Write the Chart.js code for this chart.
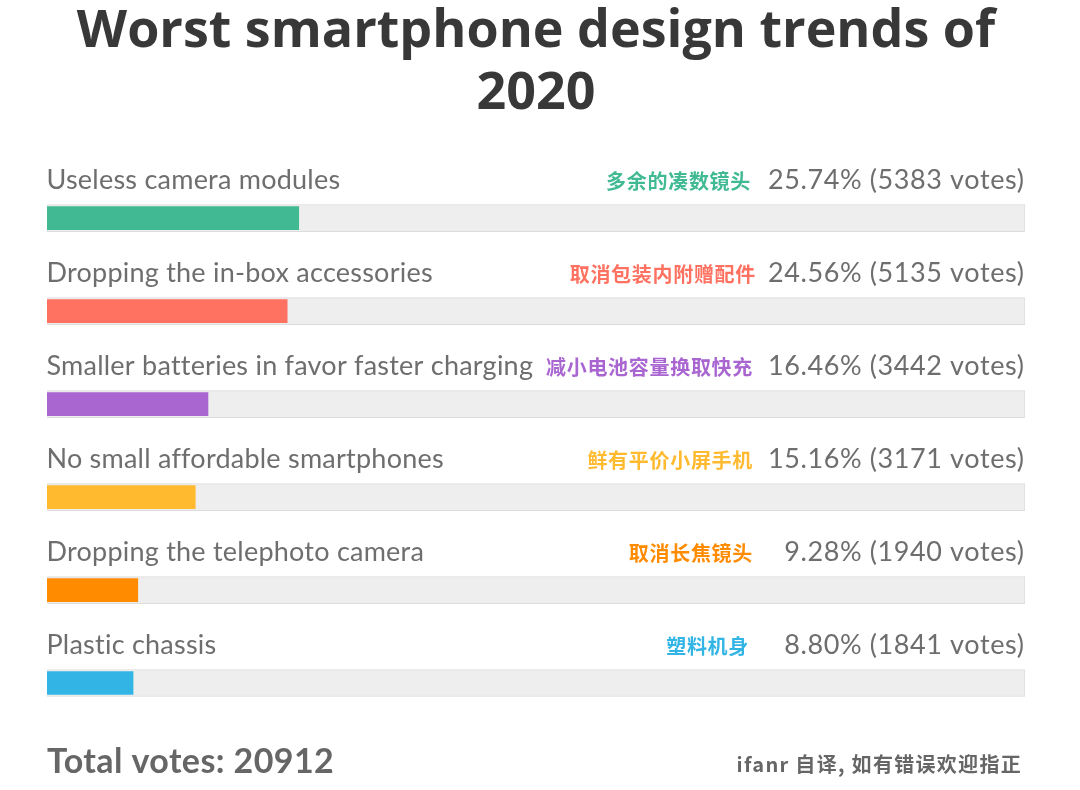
<!DOCTYPE html>
<html lang="en">
<head>
<meta charset="utf-8">
<style>html,body{margin:0;padding:0;background:#fff}canvas{display:block}</style>
<script src="https://cdn.jsdelivr.net/npm/chart.js@4"></script>
</head>
<body>
<canvas id="c" width="1080" height="790"></canvas>
<script>
const titleLines = ["Worst smartphone design trends of", "2020"];
const categories = ["Useless camera modules", "Dropping the in-box accessories", "Smaller batteries in favor faster charging", "No small affordable smartphones", "Dropping the telephoto camera", "Plastic chassis"];
const zhLabels = ["多余的凑数镜头", "取消包装内附赠配件", "减小电池容量换取快充", "鲜有平价小屏手机", "取消长焦镜头", "塑料机身"];
const percents = [25.74, 24.56, 16.46, 15.16, 9.28, 8.80];
const votes = [5383, 5135, 3442, 3171, 1940, 1841];
const trackValues = [100, 100, 100, 100, 100, 100];
const colors = ["#41b993", "#ff7262", "#a966d1", "#ffba30", "#ff8c00", "#32b5e5"];
const totalText = "Total votes: 20912";
const creditText = "ifanr 自译, 如有错误欢迎指正";

const latin = 'Lato, "Noto Sans", sans-serif';
const cjk = '"Noto Sans CJK SC", sans-serif';

const textPlugin = {
  id: "rowText",
  afterDatasetsDraw(chart) {
    const { ctx, scales: { y } } = chart;
    const zhRightNudge = [-1, 4, 1, 1, 1, -3];
    ctx.save();
    ctx.textBaseline = "middle";
    categories.forEach((name, i) => {
      const py = y.getPixelForValue(i) - 37.5;
      ctx.textAlign = "left";
      ctx.letterSpacing = "0.23px";
      ctx.fillStyle = "#6e6e6e";
      ctx.font = "400 27px " + latin;
      ctx.fillText(name, 46.5, py);
      ctx.textAlign = "right";
      ctx.letterSpacing = "0.6px";
      ctx.fillText(percents[i].toFixed(2) + "% (" + votes[i] + " votes)", 1024.5, py);
      ctx.letterSpacing = "0.7px";
      ctx.fillStyle = colors[i];
      ctx.font = "700 20px " + cjk;
      ctx.fillText(zhLabels[i], 752 + zhRightNudge[i], py + 1);
    });
    ctx.letterSpacing = "0.4px";
    ctx.textAlign = "left";
    ctx.fillStyle = "#666666";
    ctx.font = "700 34px " + latin;
    ctx.fillText(totalText, 47, 762.5);
    ctx.textAlign = "right";
    ctx.letterSpacing = "1.3px";
    ctx.font = "700 20px " + cjk;
    ctx.fillText(creditText, 1022, 764);
    ctx.restore();
  }
};

new Chart(document.getElementById("c"), {
  type: "bar",
  plugins: [textPlugin],
  data: {
    labels: categories,
    datasets: [
      { label: "Share of votes", data: percents, backgroundColor: colors, barThickness: 23, order: 1, borderWidth: 0 },
      { label: "Track", data: trackValues, backgroundColor: "#eeeeee", borderColor: "#dcdcdc", borderWidth: 1, barThickness: 27, order: 2 }
    ]
  },
  options: {
    indexAxis: "y",
    responsive: false,
    animation: false,
    devicePixelRatio: 1,
    layout: { padding: { left: 47, right: 55, top: 0, bottom: 60.5 } },
    datasets: { bar: { grouped: false } },
    scales: {
      x: { display: false, min: 0, max: 100 },
      y: { display: false }
    },
    plugins: {
      legend: { display: false },
      tooltip: { enabled: false },
      title: {
        display: true,
        text: titleLines,
        color: "#383838",
        font: { family: '"Open Sans", sans-serif', size: 52, weight: "700", lineHeight: 1.18 },
        padding: { top: 2, bottom: 47 }
      }
    }
  }
});
</script>
</body>
</html>
